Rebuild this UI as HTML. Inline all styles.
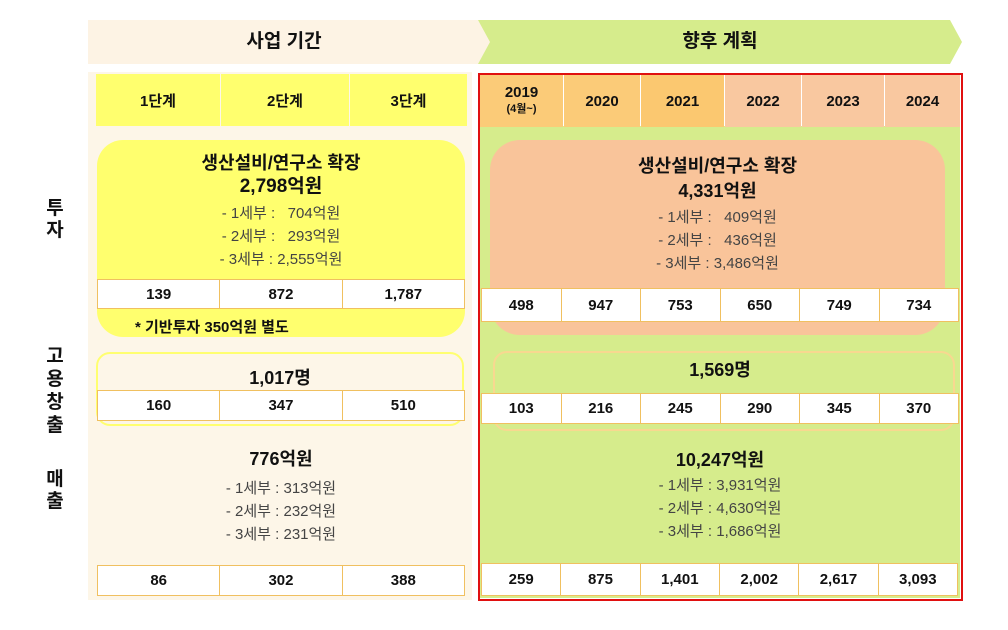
<!DOCTYPE html>
<html><head><meta charset="utf-8"><style>
body{margin:0;width:1008px;height:630px;background:#fff;position:relative;overflow:hidden;font-family:"Liberation Sans","Malgun Gothic","Noto Sans CJK KR",sans-serif;color:#111}
.a{position:absolute}
.c{position:absolute;display:flex;align-items:center;justify-content:center;font-weight:bold;font-size:15px;box-sizing:border-box}
.t{position:absolute;text-align:center;font-weight:bold;font-size:18px;line-height:22px}
.s{position:absolute;text-align:center;font-size:15px;color:#444;line-height:23px}
.row{position:absolute;display:flex;background:#fff;border:1px solid #f0c060;box-sizing:border-box}
.row div{flex:1;display:flex;align-items:center;justify-content:center;font-weight:bold;font-size:15px;border-right:1px solid #f0c060}
.row div:last-child{border-right:none}
.lab{position:absolute;font-weight:bold;font-size:19px;width:24px;text-align:center;line-height:22px}
</style></head><body>
<svg class="a" style="left:0;top:0" width="1008" height="630">
<polygon points="88,20 480,20 492,42 480,64 88,64" fill="#fdf3e4"/>
<polygon points="478,20 950,20 962,42 950,64 478,64 490,42" fill="#d6ec8c"/>
</svg>
<div class="t" style="left:88px;top:31px;width:392px;font-size:19px">사업 기간</div>
<div class="t" style="left:490px;top:31px;width:460px;font-size:19px">향후 계획</div>
<div class="a" style="left:88px;top:72px;width:384px;height:528px;background:#fdf6e8"></div>
<div class="c" style="left:96px;top:74px;width:124px;height:52px;background:#ffff6e">1단계</div>
<div class="c" style="left:221px;top:74px;width:128px;height:52px;background:#ffff6e">2단계</div>
<div class="c" style="left:350px;top:74px;width:117px;height:52px;background:#ffff6e">3단계</div>
<div class="a" style="left:480px;top:126px;width:480px;height:472px;background:#d6ec8c"></div>
<div class="c" style="left:480px;top:75px;width:83px;height:52px;background:#fbcb78;flex-direction:column;line-height:17px">2019<span style="font-size:11px">(4월~)</span></div>
<div class="c" style="left:564px;top:75px;width:76px;height:52px;background:#fbcb78">2020</div>
<div class="c" style="left:641px;top:75px;width:83px;height:52px;background:#fbc870">2021</div>
<div class="c" style="left:725px;top:75px;width:76px;height:52px;background:#f9c8a0">2022</div>
<div class="c" style="left:802px;top:75px;width:82px;height:52px;background:#f9c8a0">2023</div>
<div class="c" style="left:885px;top:75px;width:75px;height:52px;background:#f9c8a0">2024</div>
<!-- left invest -->
<div class="a" style="left:97px;top:140px;width:368px;height:197px;background:#ffff6e;border-radius:26px"></div>
<div class="t" style="left:97px;top:152px;width:368px">생산설비/연구소 확장</div>
<div class="t" style="left:97px;top:176px;width:368px;font-size:19px">2,798억원</div>
<div class="s" style="left:97px;top:202px;width:368px">- 1세부 :&nbsp;&nbsp; 704억원<br>- 2세부 :&nbsp;&nbsp; 293억원<br>- 3세부 : 2,555억원</div>
<div class="row" style="left:97px;top:279px;width:368px;height:30px"><div>139</div><div>872</div><div>1,787</div></div>
<div class="a" style="left:135px;top:316px;font-size:15px;font-weight:bold">* 기반투자 350억원 별도</div>
<!-- right invest -->
<div class="a" style="left:490px;top:140px;width:455px;height:195px;background:#f9c49a;border-radius:30px"></div>
<div class="t" style="left:490px;top:155px;width:455px">생산설비/연구소 확장</div>
<div class="t" style="left:490px;top:180px;width:455px">4,331억원</div>
<div class="s" style="left:490px;top:206px;width:455px">- 1세부 :&nbsp;&nbsp; 409억원<br>- 2세부 :&nbsp;&nbsp; 436억원<br>- 3세부 : 3,486억원</div>
<div class="row" style="left:481px;top:288px;width:478px;height:34px"><div>498</div><div>947</div><div>753</div><div>650</div><div>749</div><div>734</div></div>
<!-- employment -->
<div class="a" style="left:96px;top:352px;width:368px;height:74px;border:2px solid #ffff70;border-radius:14px;box-sizing:border-box"></div>
<div class="t" style="left:96px;top:367px;width:368px">1,017명</div>
<div class="row" style="left:97px;top:390px;width:368px;height:31px"><div>160</div><div>347</div><div>510</div></div>
<div class="a" style="left:493px;top:351px;width:462px;height:80px;border:2px solid #f8d890;border-radius:14px;box-sizing:border-box"></div>
<div class="t" style="left:490px;top:359px;width:460px">1,569명</div>
<div class="row" style="left:481px;top:393px;width:478px;height:31px"><div>103</div><div>216</div><div>245</div><div>290</div><div>345</div><div>370</div></div>
<!-- sales -->
<div class="t" style="left:97px;top:448px;width:368px">776억원</div>
<div class="s" style="left:97px;top:477px;width:368px">- 1세부 : 313억원<br>- 2세부 : 232억원<br>- 3세부 : 231억원</div>
<div class="row" style="left:97px;top:565px;width:368px;height:31px"><div>86</div><div>302</div><div>388</div></div>
<div class="t" style="left:490px;top:449px;width:460px">10,247억원</div>
<div class="s" style="left:490px;top:474px;width:460px">- 1세부 : 3,931억원<br>- 2세부 : 4,630억원<br>- 3세부 : 1,686억원</div>
<div class="row" style="left:481px;top:563px;width:477px;height:33px"><div>259</div><div>875</div><div>1,401</div><div>2,002</div><div>2,617</div><div>3,093</div></div>
<div class="a" style="left:478px;top:73px;width:485px;height:528px;border:2px solid #e01010;box-sizing:border-box"></div>
<!-- left labels -->
<div class="lab" style="left:43px;top:198px">투<br>자</div>
<div class="lab" style="left:43px;top:345px;line-height:23px">고<br>용<br>창<br>출</div>
<div class="lab" style="left:43px;top:469px">매<br>출</div>
</body></html>
